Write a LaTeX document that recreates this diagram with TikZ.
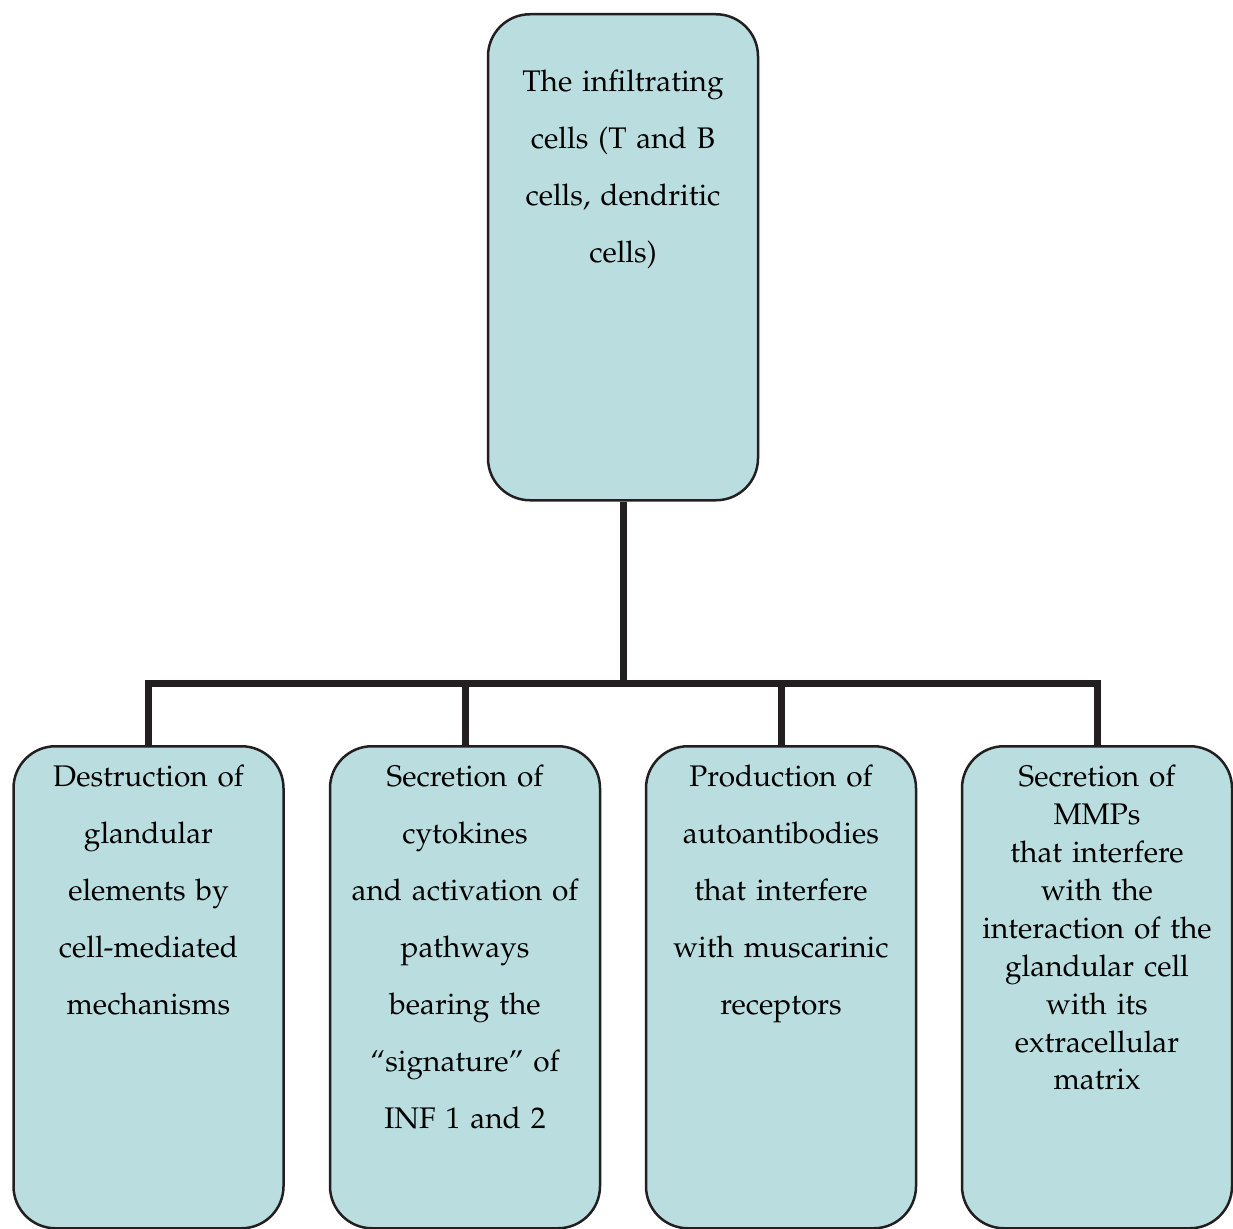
\documentclass[tikz,border=0pt]{standalone}
\usepackage[T1]{fontenc}
\usepackage{mathpazo}
\definecolor{boxfill}{RGB}{186,222,224}
\definecolor{edge}{RGB}{35,31,32}
\tikzset{
  box/.style={draw=edge, line width=2.5pt, fill=boxfill, rounded corners=42pt,
    minimum width=270pt, inner sep=0pt, anchor=north},
  txt/.style={text width=262pt, align=center, inner sep=0pt, anchor=north,
    font=\fontsize{29.8}{57}\selectfont},
  txttight/.style={txt, font=\fontsize{29.8}{37.9}\selectfont},
  conn/.style={draw=edge, line width=7pt}
}
\begin{document}
\begin{tikzpicture}[x=1pt,y=-1pt]
\useasboundingbox (0,0) rectangle (1233,1228);
\node[box, minimum height=486pt] (top) at (623,13) {};
\node[box, minimum height=482pt] (b1) at (148.5,745) {};
\node[box, minimum height=482pt] (b2) at (465,745) {};
\node[box, minimum height=482pt] (b3) at (781,745) {};
\node[box, minimum height=482pt] (b4) at (1097,745) {};

\node[txt] (ttop) at ([yshift=-57pt]top.north) {The infiltrating\\ cells (T and B\\ cells, dendritic\\ cells)};
\node[txt] (t1) at ([yshift=-20pt]b1.north) {Destruction of\\ glandular\\ elements by\\ cell-mediated\\ mechanisms};
\node[txt] (t2) at ([yshift=-20pt]b2.north) {Secretion of\\ cytokines\\ and activation of\\ pathways\\ bearing the\\ ``signature'' of\\ INF 1 and 2};
\node[txt] (t3) at ([yshift=-20pt]b3.north) {Production of\\ autoantibodies\\ that interfere\\ with muscarinic\\ receptors};
\node[txttight] (t4) at ([yshift=-20pt]b4.north) {Secretion of\\ MMPs\\ that interfere\\ with the\\ interaction of the\\ glandular cell\\ with its\\ extracellular\\ matrix};

\coordinate (hub) at (623,683);
\draw[conn] (top.south) -- (hub);
\draw[conn] (b1.north) |- (hub);
\draw[conn] (b4.north) |- (hub);
\draw[conn] (b2.north) -- (b2.north |- hub);
\draw[conn] (b3.north) -- (b3.north |- hub);
\end{tikzpicture}
\end{document}
